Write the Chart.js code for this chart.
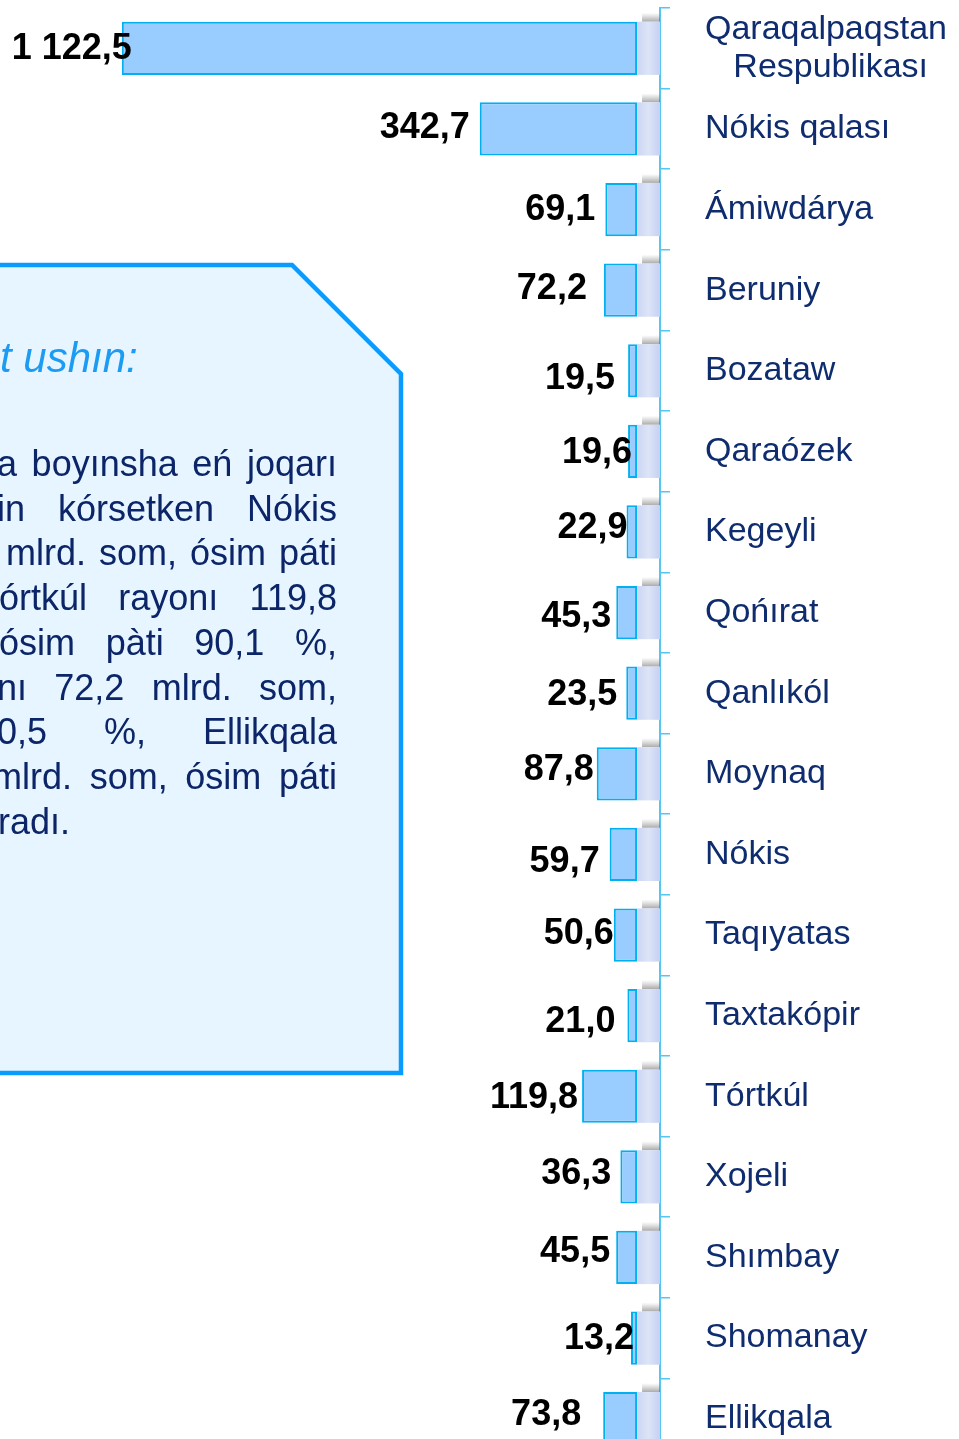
<!DOCTYPE html>
<html>
<head>
<meta charset="utf-8">
<script src="https://cdn.jsdelivr.net/npm/chart.js@4/dist/chart.umd.min.js"></script>
<style>
  html, body { margin: 0; padding: 0; background: #fff; overflow: hidden; }
  #wrap { position: relative; width: 959px; height: 1459px; }
  #note { position: absolute; left: 0; top: 0; width: 420px; height: 1100px; overflow: hidden; pointer-events: none; }
  #note svg { position: absolute; left: 0; top: 0; }
  .ln { position: absolute; font-family: "Liberation Sans", Arial, sans-serif; font-size: 36px;
        color: #0B2568; white-space: nowrap; text-align: justify; text-align-last: justify; }
  #head { position: absolute; left: 0px; top: 334px; font-family: "Liberation Sans", Arial, sans-serif;
          font-size: 42px; font-style: italic; color: #1B9CF2; white-space: nowrap; }
</style>
</head>
<body>
<div id="wrap">
  <canvas id="regionChart"></canvas>
  <div id="note">
    <svg width="420" height="1100">
      <polygon points="-10,265 292,265 401,374 401,1073 -10,1073" fill="#E6F5FF" stroke="#0A9BFF" stroke-width="4.5" stroke-linejoin="miter"/>
    </svg>
    <div id="head">t ushın:</div>
  </div>
</div>
<script>
const categories = [
  ['Qaraqalpaqstan', '   Respublikası'],
  'Nókis qalası', 'Ámiwdárya', 'Beruniy', 'Bozataw', 'Qaraózek', 'Kegeyli',
  'Qońırat', 'Qanlıkól', 'Moynaq', 'Nókis', 'Taqıyatas', 'Taxtakópir',
  'Tórtkúl', 'Xojeli', 'Shımbay', 'Shomanay', 'Ellikqala'
];
const values = [1122.5, 342.7, 69.1, 72.2, 19.5, 19.6, 22.9, 45.3, 23.5, 87.8,
  59.7, 50.6, 21.0, 119.8, 36.3, 45.5, 13.2, 73.8];

// hand-placed value labels in the original: [dx from bar end, dy from bar centre]
const labelNudge = [[10, 0], [-10, -2], [-10, 0], [-17, -2], [-13, 7], [4, 1], [1, -5],
  [-5, 3], [-9, 1], [-3, -5], [-10, 7], [0, -2], [-12, 5], [-4, 1], [-9, -4], [-6, -6],
  [3, 0], [-22, -5]];

const noteLines = [
  { text: 'a boyınsha eń joqarı', left: -3 },
  { text: 'in kórsetken Nókis', left: -3 },
  { text: 'mlrd. som, ósim páti', left: 6 },
  { text: 'órtkúl rayonı 119,8', left: -1 },
  { text: 'ósim pàti 90,1 %,', left: -1 },
  { text: 'nı 72,2 mlrd. som,', left: -3 },
  { text: '0,5 %, Ellikqala', left: -3 },
  { text: 'mlrd. som, ósim páti', left: -8 },
  { text: 'radı.', left: -2, last: true }
];

const note = document.getElementById('note');
noteLines.forEach((l, i) => {
  const d = document.createElement('div');
  d.className = 'ln';
  d.textContent = l.text;
  d.style.left = l.left + 'px';
  d.style.top = (442 + i * 44.7) + 'px';
  d.style.lineHeight = '44.7px';
  if (l.last) { d.style.textAlignLast = 'left'; d.style.textAlign = 'left'; }
  else d.style.width = (337 - l.left) + 'px';
  note.appendChild(d);
});

function fmt(v) {
  const parts = v.toFixed(1).split('.');
  return parts[0].replace(/\B(?=(\d{3})+(?!\d))/g, ' ') + ',' + parts[1];
}

// 3D side wall of each bar + shadow on top
const wallPlugin = {
  id: 'wall',
  beforeDatasetsDraw(chart) {
    const ctx = chart.ctx;
    const right = chart.chartArea.right;
    chart.getDatasetMeta(0).data.forEach((bar) => {
      const top = bar.y - bar.height / 2;
      const left = bar.base;
      ctx.save();
      const sh = ctx.createLinearGradient(0, top - 9, 0, top);
      sh.addColorStop(0, 'rgba(120,120,120,0)');
      sh.addColorStop(1, 'rgba(100,100,100,0.55)');
      ctx.fillStyle = sh;
      ctx.fillRect(left + 5, top - 9, right - left - 5, 9);
      const g = ctx.createLinearGradient(left, 0, right, 0);
      g.addColorStop(0, '#CCD6F3');
      g.addColorStop(0.5, '#DCE4F8');
      g.addColorStop(1, '#C6D1F0');
      ctx.fillStyle = g;
      ctx.fillRect(left, top, right - left, bar.height);
      ctx.restore();
    });
  }
};

const valueLabels = {
  id: 'valueLabels',
  afterDatasetsDraw(chart) {
    const ctx = chart.ctx;
    ctx.save();
    ctx.font = 'bold 36px "Liberation Sans", Arial, sans-serif';
    ctx.fillStyle = '#000';
    ctx.textAlign = 'right';
    ctx.textBaseline = 'middle';
    chart.getDatasetMeta(0).data.forEach((bar, i) => {
      const n = labelNudge[i];
      ctx.fillText(fmt(values[i]), bar.x + n[0], bar.y + n[1] + 1);
    });
    ctx.restore();
  }
};

new Chart(document.getElementById('regionChart'), {
  type: 'bar',
  data: {
    labels: categories,
    datasets: [{
      data: values,
      backgroundColor: '#99CCFF',
      borderColor: '#00B0F0',
      borderWidth: 2,
      borderSkipped: false,
      barPercentage: 0.66,
      categoryPercentage: 1
    }]
  },
  options: {
    indexAxis: 'y',
    responsive: true,
    maintainAspectRatio: false,
    animation: false,
    layout: { padding: { top: 8, bottom: 0, left: 0, right: 0 } },
    plugins: { legend: { display: false }, tooltip: { enabled: false } },
    scales: {
      x: { display: false, reverse: true, min: -50, max: 1388 },
      y: {
        position: 'right',
        afterFit(scale) {
          scale.width = 299;
          scale.paddingTop = 0;
          scale.paddingBottom = 0;
        },
        border: { display: true, color: '#55C5F2', width: 2 },
        grid: { drawOnChartArea: false, drawTicks: true, tickLength: 10, color: '#55C5F2', lineWidth: 1.5 },
        ticks: {
          autoSkip: false,
          padding: 35,
          color: '#0E2C6E',
          font: { family: '"Liberation Sans", Arial, sans-serif', size: 34, lineHeight: 1.12 }
        }
      }
    }
  },
  plugins: [wallPlugin, valueLabels]
});
</script>
</body>
</html>
